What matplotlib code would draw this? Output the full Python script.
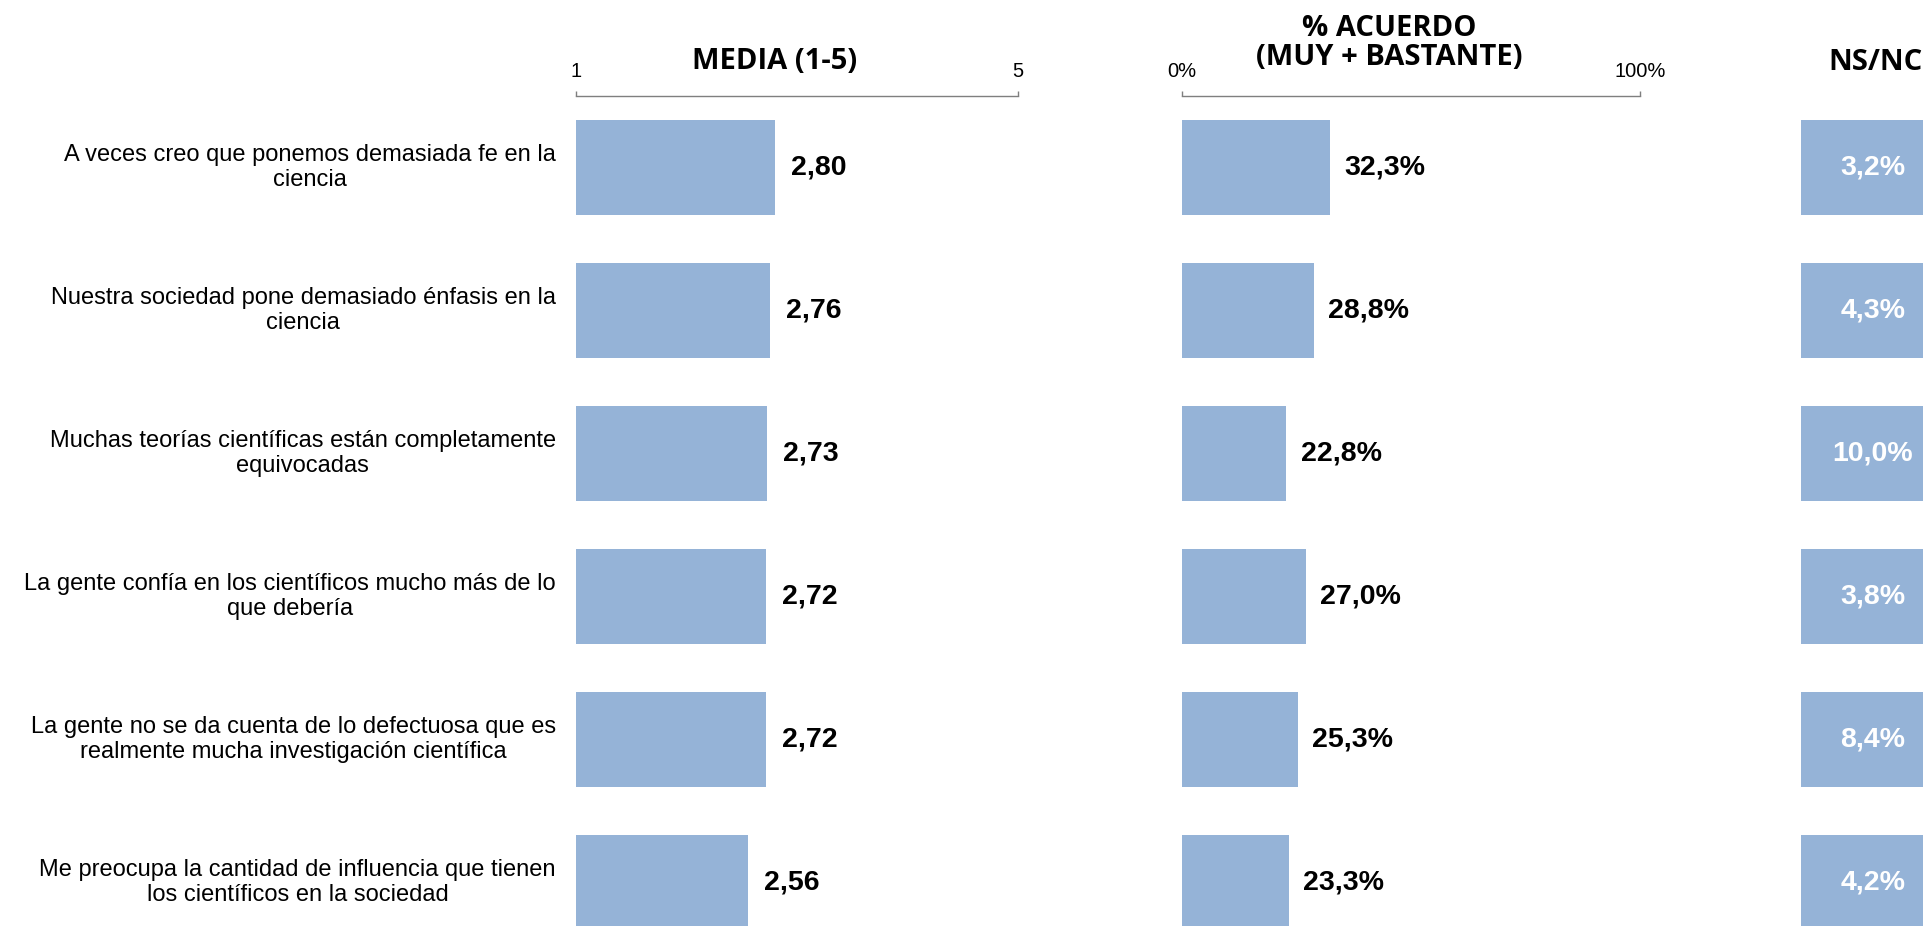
#!/usr/bin/env python3

import matplotlib
matplotlib.use('Agg')
import matplotlib.pyplot as plt

LABELS = [
    'A veces creo que ponemos demasiada fe en la\nciencia',
    'Nuestra sociedad pone demasiado énfasis en la\nciencia',
    'Muchas teorías científicas están completamente\nequivocadas',
    'La gente confía en los científicos mucho más de lo\nque debería',
    'La gente no se da cuenta de lo defectuosa que es\nrealmente mucha investigación científica',
    'Me preocupa la cantidad de influencia que tienen\nlos científicos en la sociedad',
]
MEDIA = [2.80, 2.76, 2.73, 2.72, 2.72, 2.56]
ACUERDO = [32.3, 28.8, 22.8, 27.0, 25.3, 23.3]
NSNC = [3.2, 4.3, 10.0, 3.8, 8.4, 4.2]

TITLES = ['MEDIA (1-5)', '% ACUERDO\n(MUY + BASTANTE)', 'NS/NC']

BAR_COLOR = '#95B3D7'
LINE_COLOR = '#7f7f7f'
W, H = 1924, 926


def fmt(v, decimals):
    return f'{v:.{decimals}f}'.replace('.', ',')


def px_axes(left, right):
    # axes box in pixels -> figure fraction; top at the scale line, 6 rows of 143 px
    top = 1 - 96 / H
    height = 6 * 143 / H
    return [left / W, top - height, (right - left) / W, height]


def style_scale(ax, ticks, ticklabels):
    for side in ['left', 'right', 'bottom']:
        ax.spines[side].set_visible(False)
    ax.spines['top'].set_color(LINE_COLOR)
    ax.spines['top'].set_linewidth(1.0)
    ax.xaxis.tick_top()
    ax.set_xticks(ticks)
    ax.set_xticklabels(ticklabels, fontsize=14.5, family='Liberation Sans')
    ax.tick_params(axis='x', direction='out', length=3.5, width=1.0,
                   color=LINE_COLOR, pad=7)
    ax.set_yticks([])


def main():
    rows = list(range(len(LABELS)))
    fig = plt.figure(figsize=(W / 100, H / 100), dpi=100)

    # -- Media --
    ax1 = fig.add_axes(px_axes(576, 1018))
    ax1.barh(rows, [m - 1 for m in MEDIA], left=1, height=0.664, color=BAR_COLOR)
    ax1.set_xlim(1, 5)
    ax1.set_ylim(5.5, -0.5)
    style_scale(ax1, [1, 5], ['1', '5'])
    for r, v in zip(rows, MEDIA):
        ax1.annotate(fmt(v, 2), (v, r), xytext=(11.5, 0), textcoords='offset points',
                     va='center', ha='left', fontsize=20.5, fontweight='bold',
                     family='Liberation Sans')
    for r, lab in zip(rows, LABELS):
        ax1.annotate(lab, (0, r), xycoords=ax1.get_yaxis_transform(),
                     xytext=(-14.5, 0), textcoords='offset points',
                     va='center', ha='right', multialignment='center',
                     fontsize=17, family='Liberation Sans')

    # -- % acuerdo --
    ax2 = fig.add_axes(px_axes(1182, 1640))
    ax2.barh(rows, ACUERDO, height=0.664, color=BAR_COLOR)
    ax2.set_xlim(0, 100)
    ax2.set_ylim(5.5, -0.5)
    style_scale(ax2, [0, 100], ['0%', '100%'])
    for r, v in zip(rows, ACUERDO):
        ax2.annotate(fmt(v, 1) + '%', (v, r), xytext=(10.5, 0), textcoords='offset points',
                     va='center', ha='left', fontsize=20.5, fontweight='bold',
                     family='Liberation Sans')

    # -- NS/NC boxes --
    ax3 = fig.add_axes(px_axes(1801, 1945))
    ax3.barh(rows, [1] * len(rows), height=0.664, color=BAR_COLOR)
    ax3.set_xlim(0, 1)
    ax3.set_ylim(5.5, -0.5)
    ax3.axis('off')
    for r, v in zip(rows, NSNC):
        ax3.text(0.5, r, fmt(v, 1) + '%', va='center', ha='center', color='white',
                 fontsize=20.5, fontweight='bold', family='Liberation Sans')

    # -- Titles --
    fig.text(775 / W, 1 - 69 / H, TITLES[0], ha='center', va='baseline',
             fontsize=21, fontweight='bold', family='Open Sans')
    fig.text(1389 / W, 1 - 72 / H, TITLES[1], ha='center', va='bottom',
             multialignment='center', fontsize=21, fontweight='bold',
             family='Open Sans', linespacing=0.98)
    fig.text(1876 / W, 1 - 70 / H, TITLES[2], ha='center', va='baseline',
             fontsize=21, fontweight='bold', family='Open Sans')

    fig.savefig('out.png', dpi=100)


if __name__ == '__main__':
    main()
